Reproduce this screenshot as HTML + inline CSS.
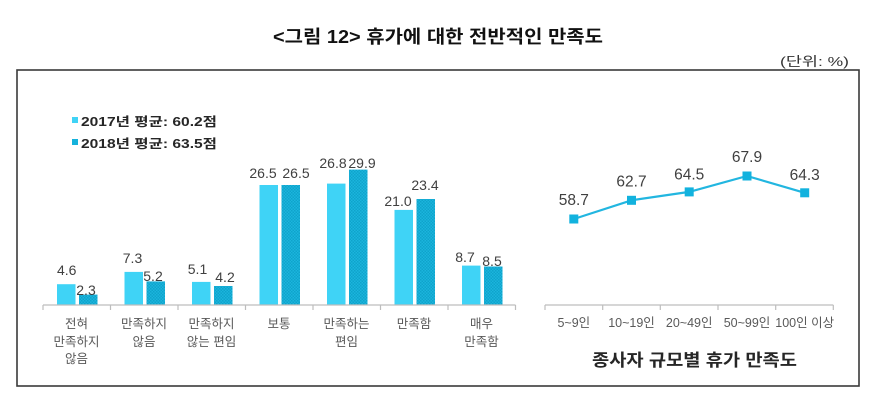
<!DOCTYPE html>
<html>
<head>
<meta charset="utf-8">
<style>
html,body{margin:0;padding:0;background:#fff;}
svg{display:block;}
text{font-family:"Liberation Sans","Noto Sans CJK KR",sans-serif;}
</style>
</head>
<body>
<svg width="875" height="402" viewBox="0 0 875 402" xmlns="http://www.w3.org/2000/svg">
<defs>
<pattern id="dots" width="3" height="3" patternUnits="userSpaceOnUse">
<rect width="3" height="3" fill="#1bb5dd"/>
<rect x="0" y="0" width="1.5" height="1.5" fill="#0fa3cb"/>
<rect x="1.5" y="1.5" width="1.5" height="1.5" fill="#0fa3cb"/>
</pattern>
</defs>
<rect width="875" height="402" fill="#fff"/>

<!-- Main title -->
<text x="273" y="43" font-size="18" font-weight="bold" fill="#111" textLength="330" lengthAdjust="spacingAndGlyphs">&lt;그림 12&gt; 휴가에 대한 전반적인 만족도</text>
<text x="780" y="66" font-size="13" fill="#333" textLength="69" lengthAdjust="spacingAndGlyphs">(단위: %)</text>

<!-- Box -->
<rect x="17" y="70" width="842" height="316" fill="none" stroke="#3a3a3a" stroke-width="1.6"/>

<!-- Legend -->
<rect x="72" y="117" width="6" height="6" fill="#3fd3f6"/>
<text x="81" y="126" font-size="12.5" font-weight="bold" fill="#262626" textLength="136" lengthAdjust="spacingAndGlyphs">2017년 평균: 60.2점</text>
<rect x="72" y="139" width="6" height="6" fill="#15b2dc"/>
<text x="81" y="148" font-size="12.5" font-weight="bold" fill="#262626" textLength="136" lengthAdjust="spacingAndGlyphs">2018년 평균: 63.5점</text>

<!-- Bars 2017 -->
<g fill="#3fd3f6">
<rect x="57" y="284.2" width="18.5" height="20.8"/>
<rect x="124.5" y="271.9" width="18.5" height="33.1"/>
<rect x="192" y="281.9" width="18.5" height="23.1"/>
<rect x="259.5" y="185" width="18.5" height="120"/>
<rect x="327" y="183.6" width="18.5" height="121.4"/>
<rect x="394.5" y="209.9" width="18.5" height="95.1"/>
<rect x="462" y="265.6" width="18.5" height="39.4"/>
</g>
<!-- Bars 2018 -->
<g fill="url(#dots)">
<rect x="79" y="294.6" width="18.5" height="10.4"/>
<rect x="146.5" y="281.4" width="18.5" height="23.6"/>
<rect x="214" y="286" width="18.5" height="19"/>
<rect x="281.5" y="185" width="18.5" height="120"/>
<rect x="349" y="169.6" width="18.5" height="135.4"/>
<rect x="416.5" y="199" width="18.5" height="106"/>
<rect x="484" y="266.5" width="18.5" height="38.5"/>
</g>

<!-- Bar axis -->
<g stroke="#bdbdbd" stroke-width="1.2">
<line x1="43" y1="305" x2="515.5" y2="305"/>
<line x1="43" y1="305" x2="43" y2="310"/>
<line x1="110.5" y1="305" x2="110.5" y2="310"/>
<line x1="178" y1="305" x2="178" y2="310"/>
<line x1="245.5" y1="305" x2="245.5" y2="310"/>
<line x1="313" y1="305" x2="313" y2="310"/>
<line x1="380.5" y1="305" x2="380.5" y2="310"/>
<line x1="448" y1="305" x2="448" y2="310"/>
<line x1="515.5" y1="305" x2="515.5" y2="310"/>
</g>

<!-- Bar value labels -->
<g font-size="14" fill="#404040" text-anchor="middle">
<text x="66.7" y="275">4.6</text>
<text x="86" y="295">2.3</text>
<text x="132.5" y="263">7.3</text>
<text x="153" y="281">5.2</text>
<text x="197.5" y="274">5.1</text>
<text x="225" y="282">4.2</text>
<text x="263" y="178">26.5</text>
<text x="296" y="178">26.5</text>
<text x="333" y="168">26.8</text>
<text x="362" y="168">29.9</text>
<text x="398" y="206">21.0</text>
<text x="425" y="190">23.4</text>
<text x="465" y="262">8.7</text>
<text x="492" y="266">8.5</text>
</g>

<!-- Bar category labels -->
<g font-size="12.5" fill="#595959" text-anchor="middle">
<text x="76.5" y="328">전혀</text>
<text x="76.5" y="346">만족하지</text>
<text x="76.5" y="363">않음</text>
<text x="144" y="328">만족하지</text>
<text x="144" y="346">않음</text>
<text x="211.5" y="328">만족하지</text>
<text x="211.5" y="346">않는 편임</text>
<text x="279" y="328">보통</text>
<text x="346.5" y="328">만족하는</text>
<text x="346.5" y="346">편임</text>
<text x="414" y="328">만족함</text>
<text x="481.5" y="328">매우</text>
<text x="481.5" y="346">만족함</text>
</g>

<!-- Line chart axis -->
<g stroke="#bdbdbd" stroke-width="1.2">
<line x1="545" y1="305" x2="833.3" y2="305"/>
<line x1="545" y1="305" x2="545" y2="310"/>
<line x1="602.7" y1="305" x2="602.7" y2="310"/>
<line x1="660.3" y1="305" x2="660.3" y2="310"/>
<line x1="718" y1="305" x2="718" y2="310"/>
<line x1="775.7" y1="305" x2="775.7" y2="310"/>
<line x1="833.3" y1="305" x2="833.3" y2="310"/>
</g>
<g font-size="12.5" fill="#595959" text-anchor="middle">
<text x="573.8" y="327">5~9인</text>
<text x="631.5" y="327">10~19인</text>
<text x="689.2" y="327">20~49인</text>
<text x="747" y="327">50~99인</text>
<text x="804.7" y="327">100인 이상</text>
</g>

<!-- Line -->
<polyline points="573.8,219 631.5,200.3 689.2,191.9 747,176 804.7,192.8" fill="none" stroke="#22b6e0" stroke-width="2.2"/>
<g fill="#12b2de">
<rect x="569.3" y="214.5" width="9" height="9"/>
<rect x="627" y="195.8" width="9" height="9"/>
<rect x="684.7" y="187.4" width="9" height="9"/>
<rect x="742.5" y="171.5" width="9" height="9"/>
<rect x="800.2" y="188.3" width="9" height="9"/>
</g>
<g font-size="15.5" fill="#404040" text-anchor="middle">
<text x="573.8" y="205">58.7</text>
<text x="631.5" y="186.5">62.7</text>
<text x="689.2" y="179.5">64.5</text>
<text x="747" y="162">67.9</text>
<text x="804.7" y="180">64.3</text>
</g>

<text x="592" y="366" font-size="17" font-weight="bold" fill="#262626" textLength="205" lengthAdjust="spacingAndGlyphs">종사자 규모별 휴가 만족도</text>
</svg>
</body>
</html>
